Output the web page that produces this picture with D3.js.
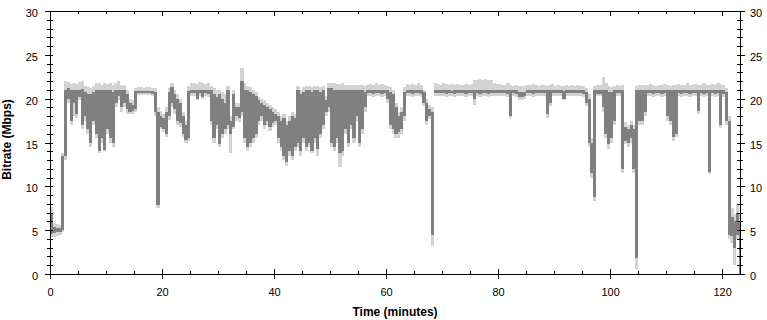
<!DOCTYPE html>
<html>
<head>
<meta charset="utf-8">
<script src="https://cdn.jsdelivr.net/npm/d3@7"></script>
<style>
  html, body { margin: 0; padding: 0; background: #fff; }
  svg { display: block; }
  .axis text { font-family: "Liberation Sans", Arial, sans-serif; font-size: 11px; fill: #000; }
  .axis path, .axis line { stroke: #000; shape-rendering: crispEdges; }
  .title { font-family: "Liberation Sans", Arial, sans-serif; font-size: 12px; font-weight: bold; fill: #000; }
  .bin { shape-rendering: crispEdges; }
</style>
</head>
<body>
<div id="chart"></div>
<script>
// bitrate samples, one bin every half minute (0, 0.5, 1, ... 123 min)
const binMinutes = 0.5;

// dark trace: top and bottom of each half-minute bin (Mbps)
const darkHigh = [
  7.0,5.4,5.3,5.2,13.5,21.0,21.2,21.0,21.0,21.0,21.0,21.1,20.8,20.5,20.5,20.8,21.0,21.0,21.0,21.0,
  21.0,21.0,20.8,21.0,21.0,21.0,21.0,20.5,19.5,19.3,20.9,20.9,20.9,20.9,20.9,20.9,20.9,20.8,18.5,18.0,
  17.8,18.5,20.8,21.3,20.5,20.0,19.5,18.0,17.0,20.9,21.0,21.0,21.0,21.0,21.0,21.0,21.0,21.0,20.5,20.2,
  20.5,20.0,19.5,21.0,17.5,20.5,19.0,19.0,22.0,21.0,21.0,20.8,20.5,20.3,19.8,19.5,19.3,19.0,18.8,18.5,
  18.3,18.0,17.5,17.8,17.0,17.5,18.0,17.8,21.0,20.5,20.8,21.0,21.0,20.8,21.0,21.0,20.8,21.0,19.8,21.2,
  21.2,21.0,21.0,21.0,21.0,21.0,21.0,21.0,21.0,21.0,21.0,21.0,20.8,21.0,21.0,21.0,21.0,21.0,21.0,21.0,
  21.0,20.8,20.5,19.0,18.0,18.5,20.8,21.0,21.0,21.0,21.0,21.0,21.0,20.8,19.5,18.8,18.5,21.0,21.0,21.0,
  21.0,21.0,21.0,20.9,21.0,21.0,21.0,21.0,21.0,21.0,21.0,21.0,21.0,21.0,21.0,21.0,21.0,21.0,21.0,21.0,
  21.0,21.0,21.0,21.0,21.0,21.0,21.0,20.8,20.8,20.8,21.0,21.0,21.0,21.0,21.0,21.0,21.0,21.0,21.0,21.0,
  21.0,21.0,21.0,20.9,21.0,21.0,21.0,21.0,21.0,21.0,21.0,20.8,20.0,15.0,21.0,21.0,21.0,21.0,21.0,20.8,
  20.8,21.0,21.0,21.0,21.0,16.8,16.5,17.0,16.5,21.0,21.0,21.0,21.0,21.0,21.0,21.0,21.0,21.0,21.0,21.0,
  21.0,21.0,21.0,21.0,21.0,21.0,21.0,21.0,21.0,21.0,21.0,21.0,21.0,21.0,21.0,21.0,21.0,21.0,21.0,21.0,
  21.0,20.8,17.5,6.5,6.0,7.0,6.0
];
const darkLow = [
  4.6,4.7,4.8,4.8,5.0,13.5,20.0,17.5,19.5,18.3,20.2,17.0,18.0,16.5,15.0,17.5,16.0,14.0,15.5,14.2,
  16.5,15.5,15.0,19.5,20.3,19.0,19.5,18.8,18.5,18.6,18.8,20.6,20.6,20.6,20.6,20.6,20.5,18.5,7.9,16.8,
  16.5,16.0,18.0,19.5,18.8,17.5,17.2,16.0,15.3,15.5,20.6,20.6,20.0,20.6,20.2,20.6,20.5,17.5,15.5,17.0,
  14.8,16.0,16.5,17.0,16.0,16.8,18.0,17.8,18.5,15.5,14.5,15.0,15.5,16.0,17.5,18.0,17.0,17.5,16.8,17.2,
  17.5,15.5,14.5,13.5,12.8,14.0,13.5,14.5,15.0,14.0,15.5,14.5,15.0,14.0,15.5,14.3,16.0,17.0,18.5,19.0,
  15.0,14.5,15.5,13.8,14.0,16.5,15.0,17.0,15.5,18.0,15.0,16.5,19.0,20.6,20.6,20.5,20.6,20.6,20.5,20.6,
  20.0,17.0,16.5,16.0,16.2,16.5,18.0,20.6,20.6,20.5,20.6,20.6,20.5,19.5,17.5,18.0,4.5,20.6,20.6,20.6,
  20.6,20.5,20.6,20.6,20.5,20.6,20.6,20.6,20.5,20.6,20.6,20.0,20.6,20.5,20.6,20.6,20.5,20.6,20.6,20.6,
  20.6,20.6,20.6,20.5,18.0,20.6,20.5,20.2,20.2,20.3,20.6,20.6,20.5,20.6,20.6,20.6,20.6,18.2,19.5,20.6,
  20.6,20.6,20.6,20.0,20.6,20.6,20.6,20.6,20.6,20.6,20.5,19.5,15.0,11.5,8.8,20.5,20.5,19.0,16.0,14.8,
  15.5,17.5,20.6,20.6,12.0,15.2,15.0,15.5,12.0,1.8,17.5,17.5,18.5,20.6,20.6,20.5,20.6,20.6,20.5,20.6,
  18.0,17.5,15.6,16.0,20.6,20.5,20.6,20.6,20.5,20.6,20.6,18.6,20.6,20.5,20.6,11.6,20.6,20.5,20.6,17.0,
  20.5,17.5,4.5,4.3,3.0,4.5,0.0
];

// light trace (drawn behind the dark one)
const lightHigh = [
  7.6,5.8,5.7,5.6,13.8,22.0,21.9,21.7,21.8,21.7,21.9,22.0,21.5,21.3,21.2,21.5,21.8,21.8,21.6,21.8,
  21.7,21.8,21.6,21.8,22.0,21.6,21.6,21.0,20.0,19.8,21.2,21.3,21.3,21.2,21.3,21.3,21.2,21.2,19.0,18.6,
  18.3,19.0,21.2,21.8,21.0,20.5,20.0,18.5,17.5,21.5,21.8,21.8,21.7,21.9,21.8,21.7,21.8,21.5,21.2,21.0,
  21.0,20.8,20.5,21.5,18.0,21.0,19.5,19.5,23.5,21.8,21.5,21.3,21.0,20.8,20.2,20.0,19.8,19.5,19.3,19.0,
  18.8,18.5,18.0,18.3,17.5,18.0,18.5,18.3,21.5,21.0,21.3,21.5,21.5,21.3,21.5,21.5,21.3,21.5,20.3,21.8,
  21.8,21.8,21.7,21.7,21.8,21.6,21.6,21.6,21.6,21.6,21.6,21.6,21.4,21.6,21.7,21.6,21.8,21.6,21.7,21.6,
  21.5,21.3,21.0,19.5,18.5,19.0,21.3,21.7,21.6,21.7,21.6,21.8,21.6,21.0,20.0,19.3,19.0,21.8,21.7,21.6,
  21.8,21.7,21.6,21.7,21.6,21.7,21.6,21.6,21.7,21.6,21.7,22.1,22.1,22.2,22.1,22.2,22.1,22.1,21.8,21.7,
  21.7,21.6,21.6,21.8,21.6,21.5,21.6,21.4,21.4,21.5,21.6,21.6,21.7,21.6,21.5,21.6,21.6,21.5,21.6,21.7,
  21.5,21.6,21.5,21.5,21.6,21.5,21.6,21.5,21.6,21.5,21.5,21.2,20.5,15.5,21.5,21.6,21.6,22.5,21.8,21.5,
  21.3,21.5,21.6,21.5,21.6,17.3,17.0,17.5,17.0,21.5,21.6,21.6,21.6,21.6,21.7,21.6,21.5,21.6,21.6,21.7,
  21.6,21.5,21.6,21.6,21.7,21.6,21.6,21.8,21.6,21.6,21.7,21.6,21.6,21.8,21.6,21.6,21.7,21.6,21.8,21.7,
  21.6,21.2,18.0,7.5,6.8,8.0,7.0
];
const lightLow = [
  4.2,4.2,4.3,4.4,4.8,13.0,19.5,17.0,18.0,17.8,19.8,16.5,17.5,16.0,14.5,17.0,15.5,13.8,15.0,14.0,
  16.0,15.0,14.5,19.0,19.8,18.5,19.0,18.3,18.2,18.3,18.5,20.4,20.4,20.4,20.4,20.4,20.3,18.0,7.5,16.5,
  16.2,15.6,17.6,19.0,18.3,17.0,16.8,15.6,15.0,15.2,20.3,20.3,19.8,20.3,20.0,20.3,20.2,17.0,15.0,16.5,
  14.5,15.5,16.0,16.5,13.8,16.5,17.5,17.3,18.0,15.0,14.0,14.5,15.0,15.5,17.0,17.5,16.5,17.0,16.3,16.8,
  17.0,15.0,14.0,13.0,12.3,13.5,13.0,14.0,14.5,13.5,15.0,14.0,14.5,13.8,15.0,13.5,15.5,16.5,18.0,18.5,
  14.5,14.0,15.0,12.2,13.5,16.0,14.5,16.5,15.0,17.5,14.5,16.0,18.5,20.3,20.3,20.2,20.3,20.3,20.2,20.3,
  19.5,16.5,16.0,15.5,15.5,16.0,17.5,20.3,20.3,20.2,20.3,20.3,20.2,19.2,17.0,17.7,3.2,20.3,20.3,20.3,
  20.3,20.2,20.3,20.3,20.2,20.3,20.3,20.3,20.2,20.3,20.3,19.3,20.3,20.2,20.3,20.3,20.2,20.3,20.3,20.3,
  20.3,20.3,20.3,20.2,17.8,20.3,20.2,19.9,19.9,20.0,20.3,20.3,20.2,20.3,20.3,20.3,20.3,17.8,19.2,20.3,
  20.3,20.3,20.3,19.8,20.3,20.3,20.3,20.3,20.3,20.3,20.2,19.2,14.5,11.0,8.3,20.3,20.3,18.5,15.5,14.3,
  15.0,17.0,20.3,20.3,11.5,14.8,14.5,15.0,11.5,0.6,17.0,17.0,18.0,20.3,20.3,20.2,20.3,20.3,20.2,20.3,
  17.5,17.0,15.2,15.6,20.3,20.2,20.3,20.3,20.2,20.3,20.3,18.2,20.3,20.2,20.3,11.4,20.3,20.2,20.3,16.6,
  20.2,17.0,4.0,3.5,1.0,4.0,0.0
];

const xMajorTicks = [0, 20, 40, 60, 80, 100, 120];
const yMajorTicks = [0, 5, 10, 15, 20, 25, 30];
const xTitle = "Time (minutes)";
const yTitle = "Bitrate (Mbps)";

const width = 767, height = 320;
const margin = { top: 11, right: 27, bottom: 46, left: 50 };

const svg = d3.select("#chart").append("svg")
  .attr("width", width)
  .attr("height", height);

const x = d3.scaleLinear().domain([0, 123.2]).range([margin.left, width - margin.right]);
const y = d3.scaleLinear().domain([0, 30]).range([height - margin.bottom, margin.top]);

const bins = darkHigh.map((h, i) => ({
  t: i * binMinutes,
  dh: h, dl: darkLow[i], lh: lightHigh[i], ll: lightLow[i]
}));

svg.append("clipPath").attr("id", "plot-clip")
  .append("rect")
  .attr("x", x(0)).attr("y", y(30))
  .attr("width", x(123.2) - x(0)).attr("height", y(0) - y(30));

const plot = svg.append("g").attr("clip-path", "url(#plot-clip)");
const binW = x(binMinutes) - x(0);

plot.append("g").selectAll("rect")
  .data(bins).enter().append("rect")
  .attr("class", "bin")
  .attr("x", d => x(d.t))
  .attr("width", binW + 0.3)
  .attr("y", d => y(d.lh))
  .attr("height", d => y(d.ll) - y(d.lh))
  .attr("fill", "#d3d3d3");

plot.append("g").selectAll("rect")
  .data(bins).enter().append("rect")
  .attr("class", "bin")
  .attr("x", d => x(d.t))
  .attr("width", binW + 0.3)
  .attr("y", d => y(d.dh))
  .attr("height", d => Math.max(1, y(d.dl) - y(d.dh)))
  .attr("fill", "#808080");

// axes: minor ticks cross the frame, majors carry the labels
const yMinor = d3.range(0, 31);
const xMinor = d3.range(0, 124, 5);
const x0 = x(0), x1 = x(123.2), yb = y(0), yt = y(30);

function styleAxis(g) {
  g.attr("class", "axis").attr("font-family", null).attr("font-size", null);
}

// left
svg.append("g").attr("transform", `translate(${x0},0)`)
  .call(d3.axisLeft(y).tickValues(yMinor).tickSize(3).tickFormat("").tickSizeOuter(0)).call(styleAxis);
svg.append("g").attr("transform", `translate(${x0},0)`)
  .call(d3.axisRight(y).tickValues(yMinor).tickSize(3).tickFormat("").tickSizeOuter(0)).call(styleAxis);
svg.append("g").attr("transform", `translate(${x0},0)`)
  .call(d3.axisLeft(y).tickValues(yMajorTicks).tickSize(5).tickPadding(7).tickSizeOuter(0)).call(styleAxis)
  .selectAll("text").attr("dy", "0.5em");

// right
svg.append("g").attr("transform", `translate(${x1},0)`)
  .call(d3.axisRight(y).tickValues(yMinor).tickSize(3).tickFormat("").tickSizeOuter(0)).call(styleAxis);
svg.append("g").attr("transform", `translate(${x1},0)`)
  .call(d3.axisLeft(y).tickValues(yMinor).tickSize(3).tickFormat("").tickSizeOuter(0)).call(styleAxis);
svg.append("g").attr("transform", `translate(${x1},0)`)
  .call(d3.axisRight(y).tickValues(yMajorTicks).tickSize(5).tickPadding(5).tickSizeOuter(0)).call(styleAxis)
  .selectAll("text").attr("dy", "0.5em");

// bottom
svg.append("g").attr("transform", `translate(0,${yb})`)
  .call(d3.axisTop(x).tickValues(xMinor).tickSize(3).tickFormat("").tickSizeOuter(0)).call(styleAxis);
svg.append("g").attr("transform", `translate(0,${yb})`)
  .call(d3.axisTop(x).tickValues(xMajorTicks).tickSize(5).tickFormat("").tickSizeOuter(0)).call(styleAxis);
svg.append("g").attr("transform", `translate(0,${yb})`)
  .call(d3.axisBottom(x).tickValues(xMajorTicks).tickSize(5).tickPadding(9).tickSizeOuter(0)).call(styleAxis);

// top
svg.append("g").attr("transform", `translate(0,${yt})`)
  .call(d3.axisBottom(x).tickValues(xMinor).tickSize(3).tickFormat("").tickSizeOuter(0)).call(styleAxis);
svg.append("g").attr("transform", `translate(0,${yt})`)
  .call(d3.axisBottom(x).tickValues(xMajorTicks).tickSize(5).tickFormat("").tickSizeOuter(0)).call(styleAxis);

// titles
svg.append("text").attr("class", "title")
  .attr("x", (x0 + x1) / 2).attr("y", 316)
  .attr("text-anchor", "middle")
  .text(xTitle);

svg.append("text").attr("class", "title")
  .attr("transform", `translate(11,${(yt + yb) / 2 - 3}) rotate(-90)`)
  .attr("text-anchor", "middle")
  .text(yTitle);
</script>
</body>
</html>
